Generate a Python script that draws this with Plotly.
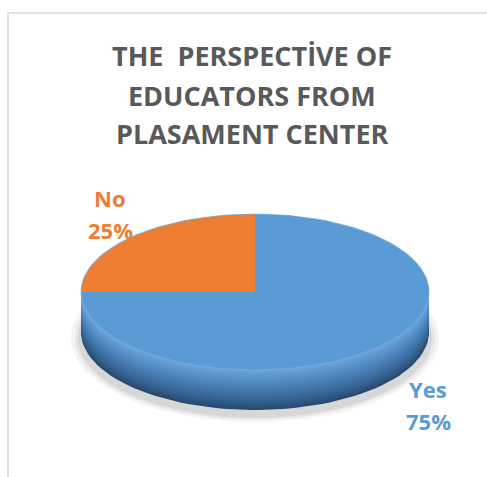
import numpy as np
import plotly.graph_objects as go

# ---- data ----
labels = ["Yes", "No"]
values = [75, 25]
slice_colors = ["#5B9BD5", "#ED7D31"]
title_lines = ["THE  PERSPECTİVE OF", "EDUCATORS FROM", "PLASAMENT CENTER"]

# ---- layout geometry (pixels) ----
W, H = 487, 477
CX, CY, RX, RY, DEPTH = 255, 292, 174, 78, 40
FONT = "Open Sans"

def arc(th0, th1, cy, n=120, rx=RX, ry=RY):
    th = np.radians(np.linspace(th0, th1, n))
    return CX + rx * np.sin(th), cy - ry * np.cos(th)

def hex2rgb(h):
    h = h.lstrip("#")
    return [int(h[i:i + 2], 16) for i in (0, 2, 4)]

def lerp_color(stops, f):
    for (f0, c0), (f1, c1) in zip(stops[:-1], stops[1:]):
        if f0 <= f <= f1:
            a = (f - f0) / (f1 - f0) if f1 > f0 else 0
            r0, r1 = hex2rgb(c0), hex2rgb(c1)
            return "rgb(%d,%d,%d)" % tuple(round(r0[i] + (r1[i] - r0[i]) * a) for i in range(3))
    return stops[-1][1]

fig = go.Figure()

# soft shadow
for k, op in [(10, 0.10), (6, 0.14), (3, 0.18)]:
    xs, ys = arc(0, 360, CY + DEPTH + 6, rx=RX + k, ry=RY + k * 0.6)
    fig.add_trace(go.Scatter(x=xs, y=ys, fill="toself", mode="lines",
                             line=dict(width=0), fillcolor="rgba(150,150,150,%.2f)" % op,
                             hoverinfo="skip", showlegend=False))

# side of the disc (gradient layers from bottom up)
side_stops = [(0.0, "#6FA8DD"), (0.18, "#5E97CD"), (0.45, "#4A80B8"),
              (0.8, "#35628F"), (1.0, "#27496E")]
steps = 26
for i in range(steps, -1, -1):
    t = DEPTH * i / steps
    xs, ys = arc(0, 360, CY + t)
    col = lerp_color(side_stops, i / steps)
    fig.add_trace(go.Scatter(x=xs, y=ys, fill="toself", mode="lines",
                             line=dict(width=0), fillcolor=col,
                             hoverinfo="skip", showlegend=False))

# top face slices (clockwise from 12 o'clock)
total = sum(values)
start = 0.0
for lab, val, col in zip(labels, values, slice_colors):
    span = 360.0 * val / total
    ax, ay = arc(start, start + span, CY)
    xs = np.concatenate([[CX], ax, [CX]])
    ys = np.concatenate([[CY], ay, [CY]])
    fig.add_trace(go.Scatter(x=xs, y=ys, fill="toself", mode="lines",
                             line=dict(width=0), fillcolor=col,
                             name=lab, hoverinfo="name", showlegend=False))
    start += span

# rim highlight on top face edge
xs, ys = arc(0, 360, CY)
fig.add_trace(go.Scatter(x=xs, y=ys, mode="lines", line=dict(width=1.2, color="rgba(120,175,225,0.6)"),
                         hoverinfo="skip", showlegend=False))

annotations = []
# title
title_y = [55, 95, 133]
for txt, y in zip(title_lines, title_y):
    annotations.append(dict(x=252, y=y, xref="x", yref="y", text="<b>%s</b>" % txt,
                            showarrow=False, font=dict(family=FONT, size=27, color="#595959"),
                            xanchor="center", yanchor="middle"))

# data labels
label_pos = {"Yes": (428, 389), "No": (110, 198)}
for lab, val, col in zip(labels, values, slice_colors):
    px, py = label_pos[lab]
    pct = "%d%%" % round(100 * val / total)
    for j, txt in enumerate([lab, pct]):
        annotations.append(dict(x=px, y=py + j * 32, xref="x", yref="y", text="<b>%s</b>" % txt,
                                showarrow=False, font=dict(family=FONT, size=22, color=col),
                                xanchor="center", yanchor="middle"))

fig.update_layout(
    width=W, height=H, autosize=False,
    margin=dict(l=0, r=0, t=0, b=0),
    paper_bgcolor="white", plot_bgcolor="white",
    xaxis=dict(range=[0, W], visible=False, fixedrange=True),
    yaxis=dict(range=[H, 0], visible=False, fixedrange=True),
    annotations=annotations,
    shapes=[dict(type="rect", xref="x", yref="y", x0=8, y0=13, x1=W + 20, y1=H + 20,
                 line=dict(color="#D9D9D9", width=1.5), fillcolor="rgba(0,0,0,0)", layer="below")],
)

fig.write_html("out.html")
